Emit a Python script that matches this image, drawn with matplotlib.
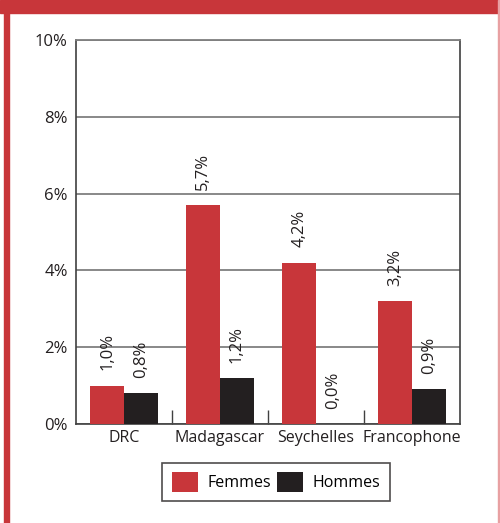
import matplotlib.pyplot as plt
import numpy as np
from matplotlib.patches import Rectangle

plt.rcParams['font.family'] = ['Open Sans', 'DejaVu Sans']

categories = ['DRC', 'Madagascar', 'Seychelles', 'Francophone']
femmes = [1.0, 5.7, 4.2, 3.2]
hommes = [0.8, 1.2, 0.0, 0.9]
yticks = [0, 2, 4, 6, 8, 10]

red = '#c8363a'
dark = '#231f20'
fs = 11.5

fig = plt.figure(figsize=(5.0, 5.23), dpi=100)

# frame around the panel
fig.patches.append(Rectangle((0, 1 - 13 / 523), 1, 13 / 523, transform=fig.transFigure,
                             color=red, zorder=0))
fig.patches.append(Rectangle((4 / 500, 0), 5 / 500, 1, transform=fig.transFigure,
                             color=red, zorder=0))
fig.patches.append(Rectangle((498 / 500, 0), 2 / 500, 1, transform=fig.transFigure,
                             color='#e8a0a2', zorder=0))

ax = fig.add_axes([76 / 500, (523 - 424) / 523, (460 - 76) / 500, (424 - 40) / 523])

x = np.arange(len(categories))
w = 0.35
b1 = ax.bar(x - w / 2, femmes, w, color=red, label='Femmes', zorder=3)
b2 = ax.bar(x + w / 2, hommes, w, color=dark, label='Hommes', zorder=3)

for bars, vals in ((b1, femmes), (b2, hommes)):
    for bar, v in zip(bars, vals):
        ax.text(bar.get_x() + bar.get_width() / 2, v + 0.4,
                ('%.1f%%' % v).replace('.', ','), rotation=90,
                ha='center', va='bottom', fontsize=fs + 0.5, color=dark)

ax.set_xlim(-0.5, len(categories) - 0.5)
ax.set_ylim(0, 10)
ax.set_yticks(yticks)
ax.set_yticklabels(['%d%%' % t for t in yticks], fontsize=fs + 0.5, color=dark)
ax.yaxis.grid(True, color='#7f7f7f', linewidth=1.3, zorder=1)
ax.tick_params(axis='y', length=0, pad=6)

ax.set_xticks(x)
ax.set_xticklabels(categories, fontsize=fs, color=dark)
ax.tick_params(axis='x', length=0, pad=4)
# separators between the groups
ax.set_xticks(np.arange(1, len(categories)) - 0.5, minor=True)
ax.tick_params(axis='x', which='minor', direction='in', length=10, color='#404040', width=1)

for s in ('left', 'bottom', 'right'):
    ax.spines[s].set_color('#404040')
    ax.spines[s].set_linewidth(1.2)
ax.spines['top'].set_color('#7f7f7f')
ax.spines['top'].set_linewidth(1.3)

leg = fig.legend(handles=[b1, b2], loc='center',
                 bbox_to_anchor=(276 / 500, 1 - 482 / 523), ncol=2, fontsize=fs,
                 frameon=True, fancybox=False, edgecolor=dark, handlelength=1.6,
                 handleheight=1.5, columnspacing=0.4, borderpad=0.6, handletextpad=0.6,
                 borderaxespad=0)
leg.get_frame().set_linewidth(1.2)

fig.savefig('out.png', dpi=100)
